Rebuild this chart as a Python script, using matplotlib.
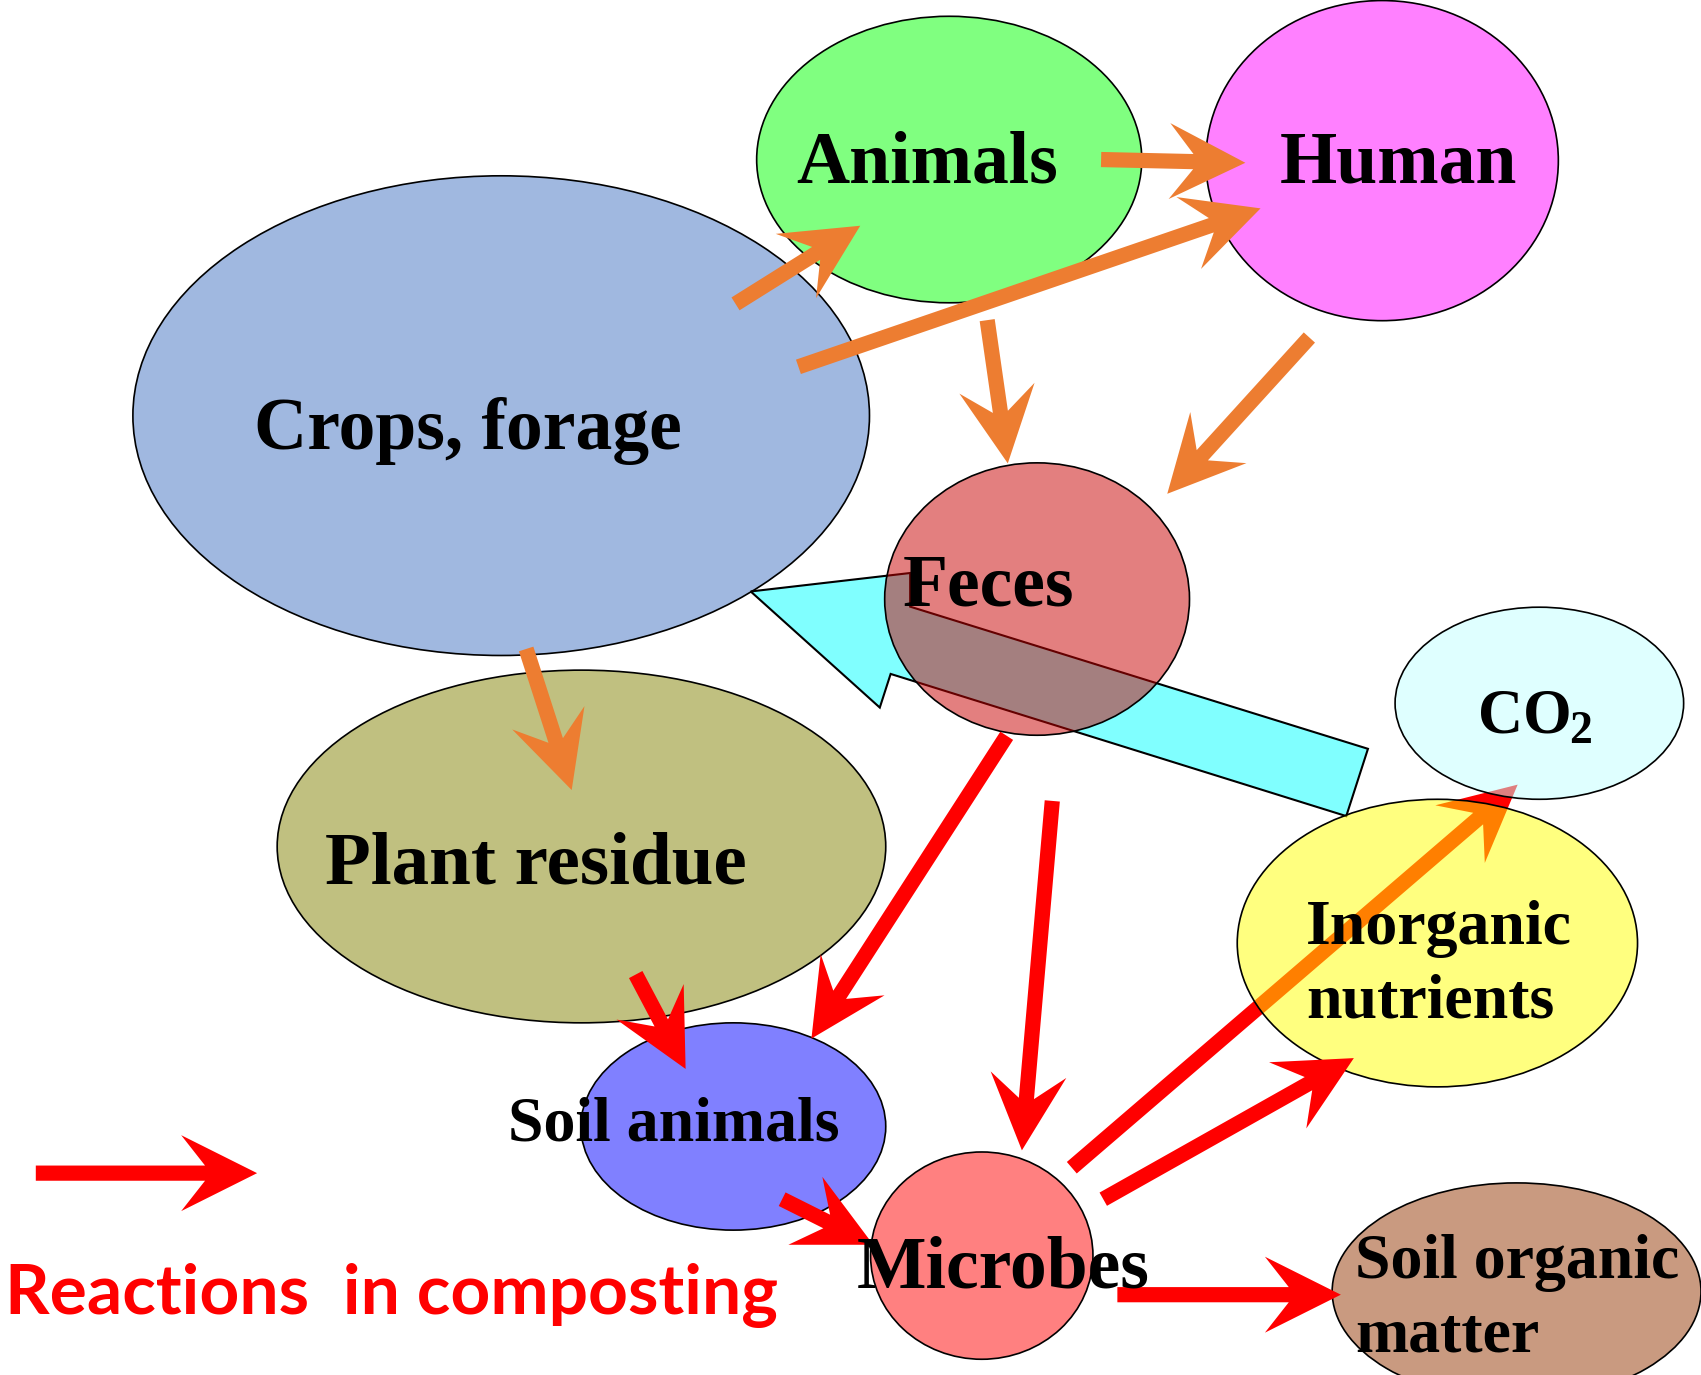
import numpy as np
import matplotlib
matplotlib.use("Agg")
import matplotlib.pyplot as plt
from matplotlib.patches import Ellipse, Polygon

# canvas units follow the picture (x right, y down)
W, H = 1568, 1267

# nodes: centre x, centre y, width, height, colour, alpha
node_names = ["crops", "animals", "human", "plant", "soil_animals", "microbes", "som",
              "feces", "inorganic", "co2"]
node_x = [462, 875, 1274, 536, 676, 905, 1398, 956, 1325, 1419]
node_y = [383, 147, 148, 780, 1038, 1157, 1190, 552, 869, 648]
node_w = [679, 355, 325, 561, 281, 205, 340, 281, 369, 266]
node_h = [442, 264, 295, 325, 191, 191, 200, 251, 265, 177]
node_color = ["#A0B8E0", "#80FF80", "#FF80FF", "#C0C080", "#8080FF", "#FF8080", "#C99A80",
              "#C80000", "#FFFF00", "#C0FFFF"]
node_alpha = [1, 1, 1, 1, 1, 1, 1, 0.5, 0.5, 0.5]

# arrows: tail -> tip
orange_tail = [(678, 280), (1015, 147), (736, 338), (910, 295), (1207, 311), (485, 598)]
orange_tip = [(793, 208), (1148, 150), (1162, 192), (929, 427), (1076, 455), (527, 728)]
red_tail = [(928, 678), (586, 898), (970, 738), (721, 1105), (1017, 1105), (1030, 1193), (33, 1081)]
red_tip = [(748, 957), (632, 985), (942, 1060), (805, 1147), (1248, 975), (1236, 1193), (237, 1081)]
under_tail = [(988, 1076)]   # microbes -> CO2, seen through the yellow/CO2 ellipses
under_tip = [(1399, 723)]

# big cyan return arrow (inorganic -> crops), outline vertices
cyan_arrow = [(692, 545), (839, 528), (839, 559), (1261, 690), (1241, 752), (821, 621), (811, 652)]

# labels: text, x, y(baseline), size, ha
label_text = ["Animals", "Human", "Crops, forage", "Feces", "Plant residue", "Inorganic",
              "nutrients", "Soil animals", "Microbes", "Soil organic", "matter", "CO", "2"]
label_x = [855, 1289, 431, 911, 494, 1204, 1204, 621, 925, 1249, 1249, 1362, 1446]
label_y = [168, 168, 414, 558, 814, 870, 938, 1051, 1186, 1178, 1245, 675, 685]
label_size = [53, 53, 53, 53, 54, 46, 46, 46, 53, 46, 46, 45, 33]
label_ha = ["center", "center", "center", "center", "center", "left", "left", "center",
            "center", "left", "left", "left", "left"]

legend_text = "Reactions  in composting"


def block_arrow(tail, tip, shaft=14, head_len=70, head_w=35, notch=22):
    p0 = np.array(tail, float)
    p1 = np.array(tip, float)
    u = (p1 - p0) / np.hypot(*(p1 - p0))
    n = np.array([-u[1], u[0]])
    base = p1 - head_len * u
    join = base + notch * u
    pts = [p0 + n * shaft / 2, join + n * shaft / 2, base + n * head_w, p1,
           base - n * head_w, join - n * shaft / 2, p0 - n * shaft / 2]
    return pts


fig = plt.figure(figsize=(17.01, 13.75), dpi=100)
ax = fig.add_axes([0, 0, 1, 1])
ax.set_xlim(0, W)
ax.set_ylim(H, 0)
ax.axis("off")

# opaque nodes first (crops under animals)
for i in range(7):
    ax.add_patch(Ellipse((node_x[i], node_y[i]), node_w[i], node_h[i], fc=node_color[i],
                         ec="black", lw=1.2, alpha=node_alpha[i], zorder=1 + i * 0.01))

ax.add_patch(Polygon(cyan_arrow, closed=True, fc="#80FFFF", ec="black", lw=1.5, zorder=2))

for t, h in zip(under_tail, under_tip):
    ax.add_patch(Polygon(block_arrow(t, h), closed=True, fc="#FF0000", ec="none", zorder=2.5))

# translucent nodes over the cyan / red arrows
for i in range(7, 10):
    ax.add_patch(Ellipse((node_x[i], node_y[i]), node_w[i], node_h[i],
                         fc=matplotlib.colors.to_rgba(node_color[i], node_alpha[i]),
                         ec="black", lw=1.2, zorder=3))

for t, h in zip(orange_tail, orange_tip):
    ax.add_patch(Polygon(block_arrow(t, h), closed=True, fc="#ED7D31", ec="none", zorder=4))
for t, h in zip(red_tail, red_tip):
    ax.add_patch(Polygon(block_arrow(t, h), closed=True, fc="#FF0000", ec="none", zorder=4))

for s, x, y, fs, ha in zip(label_text, label_x, label_y, label_size, label_ha):
    ax.text(x, y, s, ha=ha, va="baseline", fontsize=fs, fontweight="bold",
            family="Liberation Serif", color="black", zorder=5)

ax.text(5, 1211, legend_text, ha="left", va="baseline", fontsize=50, fontweight="bold",
        family="Lato", color="#FF0000", zorder=5)

fig.savefig("out.png", dpi=100)
